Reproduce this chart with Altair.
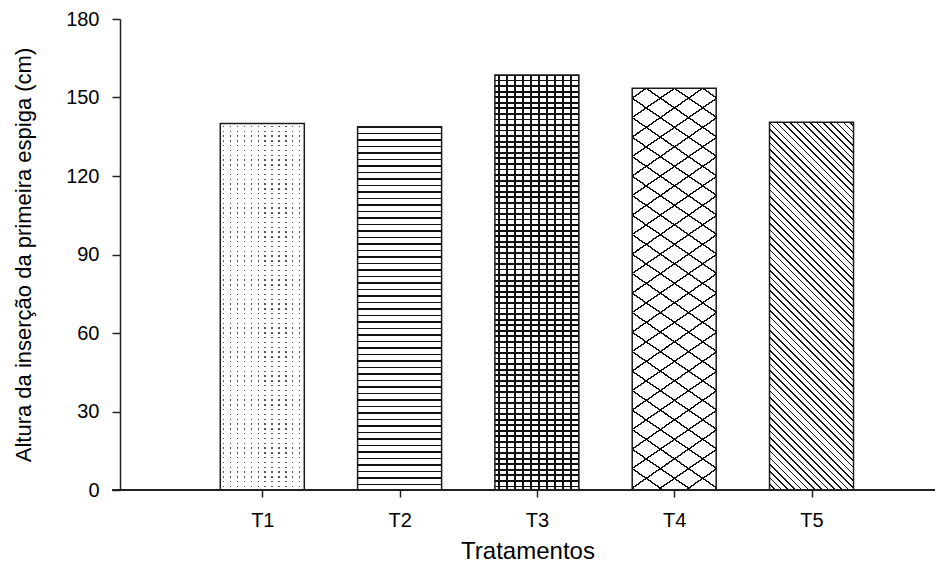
import math
import altair as alt
import pandas as pd

# ---- data ----
categories = ["T1", "T2", "T3", "T4", "T5"]
values = [140.1, 138.8, 158.6, 153.5, 140.5]
y_ticks = [0, 30, 60, 90, 120, 150, 180]
x_title = "Tratamentos"
y_title = "Altura da inserção da primeira espiga (cm)"

# ---- layout (pixels) ----
W, H = 815, 471
Y_MAX = 180
X_MAX = 5.863
BAR_W = 84
FONT = "Liberation Sans"

df = pd.DataFrame({"cat": categories, "val": values,
                   "pos": list(range(1, len(categories) + 1))})


def stops_for(fmin, fmax, period, thick, on, off, phase=0.0):
    L = fmax - fmin
    out = [(0.0, off)]
    j = math.floor((fmin - phase) / period) - 1
    while True:
        c = phase + j * period
        a, b = c - thick / 2, c + thick / 2
        if a > fmax:
            break
        if b >= fmin:
            ta = max(0.0, (a - fmin) / L)
            tb = min(1.0, (b - fmin) / L)
            out += [(ta, off), (ta, on), (tb, on), (tb, off)]
        j += 1
    out.append((1.0, off))
    return [{"offset": round(o, 5), "color": col} for o, col in out]


def hatch(w, h, alpha, beta, period, thick, on, off, phase=0.0):
    """Linear gradient (bbox units) whose level sets are lines alpha*x+beta*y=c in pixels."""
    corners = [(0, 0), (1, 0), (0, 1), (1, 1)]
    fv = [alpha * w * u + beta * h * v for u, v in corners]
    i_min = min(range(4), key=lambda i: fv[i])
    i_max = max(range(4), key=lambda i: fv[i])
    fmin, fmax = fv[i_min], fv[i_max]
    A, B = alpha * w, beta * h
    k = (fmax - fmin) / (A * A + B * B)
    x1, y1 = corners[i_min]
    return {"gradient": "linear",
            "x1": x1, "y1": y1,
            "x2": round(x1 + k * A, 6), "y2": round(y1 + k * B, 6),
            "stops": stops_for(fmin, fmax, period, thick, on, off, phase)}


heights = {c: v / Y_MAX * H for c, v in zip(categories, values)}
INK = "#111111"
CLEAR = "rgba(255,255,255,0)"

patterns = {
    # dots: dark columns, then a white mask with clear rows
    "T1": [hatch(BAR_W, heights["T1"], 1, 0, 6.9, 1.4, "#555555", "white", 3.4),
           hatch(BAR_W, heights["T1"], 0, 1, 4.8, 1.4, CLEAR, "white", 3.0)],
    # horizontal lines
    "T2": [hatch(BAR_W, heights["T2"], 0, 1, 6.5, 1.6, INK, "white", 0.0)],
    # bricks (approximated by a grid)
    "T3": [hatch(BAR_W, heights["T3"], 0, 1, 5.56, 1.8, INK, "white", 0.0),
           hatch(BAR_W, heights["T3"], 1, 0, 8.0, 1.5, INK, CLEAR, 4.0)],
    # cross-hatch
    "T4": [hatch(BAR_W, heights["T4"], -0.69, 1, 19.5, 1.7, INK, "white", -9.66),
           hatch(BAR_W, heights["T4"], 0.69, 1, 19.5, 1.7, INK, CLEAR, 9.66)],
    # diagonal lines
    "T5": [hatch(BAR_W, heights["T5"], -1.0, 1, 6.7, 1.6, INK, "white", 0.0)],
}

base = alt.Chart(df).encode(
    x=alt.X("pos:Q",
            scale=alt.Scale(domain=[0, X_MAX], nice=False, zero=False),
            axis=alt.Axis(values=list(range(1, len(categories) + 1)),
                          labelExpr="[''," + ",".join("'%s'" % c for c in categories) + "][datum.value]",
                          domain=False, grid=False,
                          tickSize=7, tickWidth=1.5, tickColor="#222222",
                          labelFont=FONT, labelFontSize=20, labelColor="#000000",
                          labelPadding=13,
                          title=x_title, titleFont=FONT, titleFontSize=24,
                          titleFontWeight="normal", titleColor="#000000",
                          titleX=W / 2, titleY=68, titleAlign="center",
                          titleBaseline="alphabetic")),
    y=alt.Y("val:Q",
            scale=alt.Scale(domain=[0, Y_MAX], nice=False),
            axis=alt.Axis(values=y_ticks, grid=False,
                          domainColor="#222222", domainWidth=1.5,
                          tickSize=8, tickWidth=1.5, tickColor="#222222",
                          labelFont=FONT, labelFontSize=20, labelColor="#000000",
                          labelPadding=13,
                          title=y_title, titleFont=FONT, titleFontSize=22,
                          titleFontWeight="normal", titleColor="#000000",
                          titleX=-90, titleY=H / 2, titleAngle=270,
                          titleAlign="center", titleBaseline="alphabetic")),
)

layers = []
for cat in categories:
    for g in patterns[cat]:
        layers.append(base.transform_filter(alt.datum.cat == cat).mark_bar(size=BAR_W, fill=g))

outline = base.mark_bar(size=BAR_W, fillOpacity=0, stroke="#1a1a1a", strokeWidth=1.5)

x_line = alt.Chart(df).mark_rule(color="#222222", strokeWidth=1.5).encode(
    x=alt.value(-8), x2=alt.value(W), y=alt.value(H))

chart = alt.layer(*layers, outline, x_line).properties(
    width=W, height=H,
    autosize=alt.AutoSizeParams(type="none"),
    padding={"left": 112, "top": 11, "right": 0, "bottom": 76},
    background="white",
).configure_view(stroke=None)

chart.save("out.html", embed_options={"renderer": "svg", "actions": False})
